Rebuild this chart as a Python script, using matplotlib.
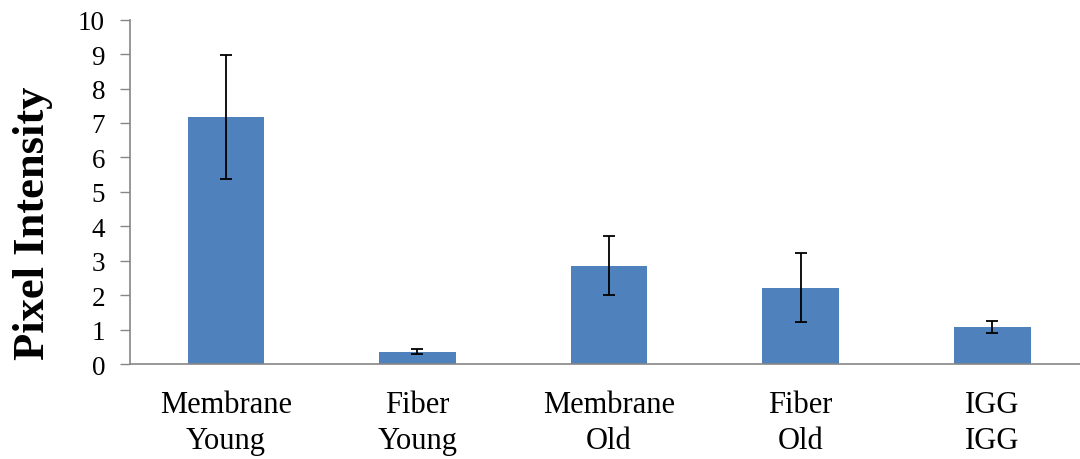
import matplotlib
matplotlib.use("Agg")
import matplotlib.pyplot as plt
import numpy as np

# Data
categories = ["Membrane\nYoung", "Fiber\nYoung", "Membrane\nOld", "Fiber\nOld", "IGG\nIGG"]
means = [7.18, 0.36, 2.86, 2.22, 1.08]
errors = [1.80, 0.07, 0.86, 1.00, 0.17]
y_ticks = [0, 1, 2, 3, 4, 5, 6, 7, 8, 9, 10]

plt.rcParams["font.family"] = ["Liberation Serif", "DejaVu Serif"]

fig = plt.figure(figsize=(10.8, 4.6), dpi=100)
# axes run slightly past the right edge of the figure
ax = fig.add_axes([0.1204, 0.2065, 0.887, 0.7485])

x = np.arange(len(categories))
ax.bar(x, means, width=0.4, color="#4F81BD", zorder=2)
ax.errorbar(x, means, yerr=errors, fmt="none", ecolor="black",
            elinewidth=1.3, capsize=4.5, capthick=1.3, zorder=3)

ax.set_xlim(-0.5, len(categories) - 0.5)
ax.set_ylim(0, 10)
ax.set_yticks(y_ticks)
ax.set_yticklabels([str(t) for t in y_ticks], fontsize=19.5)
ax.set_xticks(x)
ax.set_xticklabels(categories, fontsize=22, linespacing=1.28)

ax.tick_params(axis="y", direction="out", length=7, width=1, color="#868686", pad=11)
ax.tick_params(axis="x", length=0, pad=19)

for side in ["top", "right"]:
    ax.spines[side].set_visible(False)
for side in ["left", "bottom"]:
    ax.spines[side].set_color("#868686")
    ax.spines[side].set_linewidth(1.2)

fig.text(0.031, 0.515, "Pixel Intensity", fontsize=32, fontweight="bold",
         rotation=90, ha="center", va="center")

fig.savefig("out.png", dpi=100, facecolor="white")
